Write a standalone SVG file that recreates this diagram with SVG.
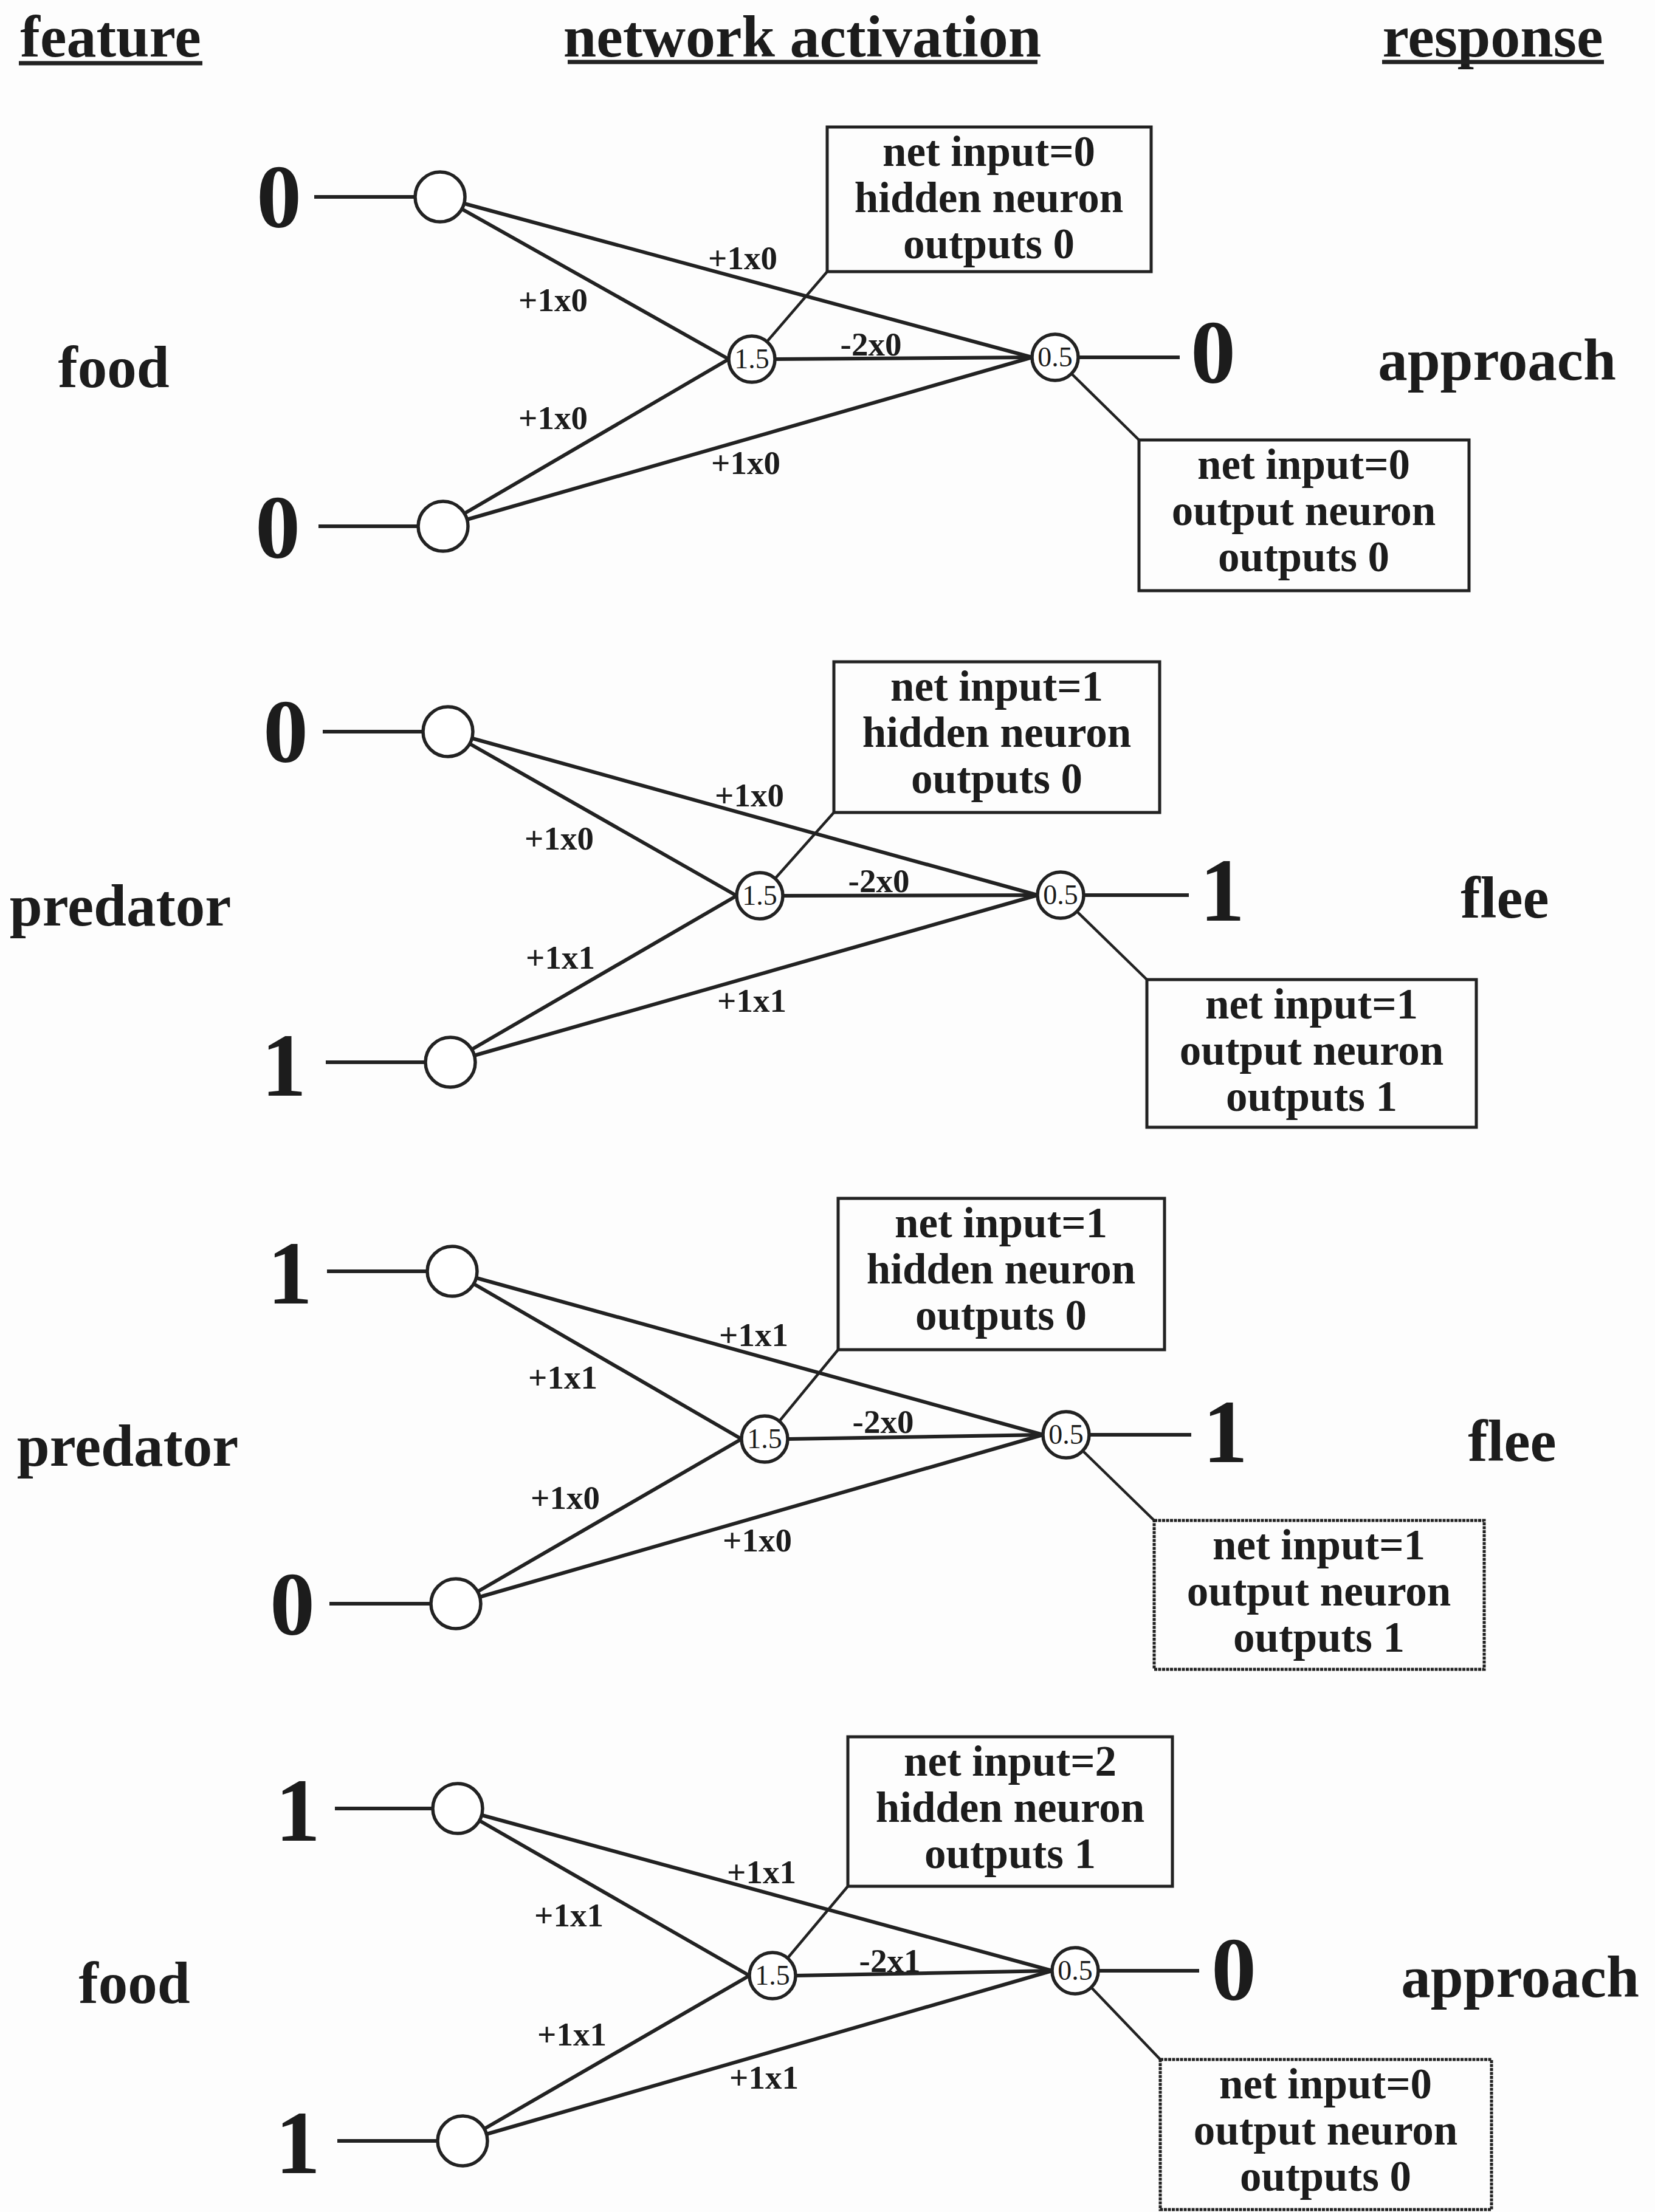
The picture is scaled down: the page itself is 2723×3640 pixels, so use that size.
<svg xmlns="http://www.w3.org/2000/svg" width="2723" height="3640" viewBox="0 0 2723 3640">
<style>
text{font-family:"Liberation Serif","Times New Roman",serif;fill:#1c1c1c;text-anchor:middle}
.hd{font-size:98px;font-weight:bold}
.side{font-size:97px;font-weight:bold}
.dig{font-size:148px;font-weight:bold}
.bx{font-size:71px;font-weight:bold}
.wl{font-size:55px;font-weight:bold}
.nl{font-size:46px}
.node{fill:#fff;stroke:#222;stroke-width:5.5}
.box{fill:none;stroke:#222;stroke-width:5}
.dot{stroke-dasharray:5 1.5}
.e{stroke:#222;stroke-width:6;fill:none}
.lead{stroke:#222;stroke-width:4.5;fill:none}
.ul{stroke:#222;stroke-width:7}
</style>
<rect width="2723" height="3640" fill="#fdfdfd"/>

<g id="headers">
<text class="hd" x="182" y="93">feature</text>
<line class="ul" x1="31" y1="104" x2="333" y2="104"/>
<text class="hd" x="1320" y="93">network activation</text>
<line class="ul" x1="934" y1="102" x2="1707" y2="102"/>
<text class="hd" x="2456" y="93">response</text>
<line class="ul" x1="2274" y1="102" x2="2639" y2="102"/>
</g>

<g id="connectors">
<!-- panel 1 -->
<line class="e" x1="517" y1="324" x2="683" y2="324"/>
<line class="e" x1="524" y1="866" x2="688" y2="866"/>
<line class="e" x1="760" y1="344" x2="1199" y2="591"/>
<line class="e" x1="764" y1="335" x2="1698" y2="588"/>
<line class="e" x1="764" y1="845" x2="1199" y2="591"/>
<line class="e" x1="768" y1="855" x2="1698" y2="588"/>
<line class="e" x1="1275" y1="591" x2="1698" y2="588"/>
<line class="e" x1="1774" y1="588" x2="1941" y2="588"/>
<line class="lead" x1="1262" y1="562" x2="1361" y2="447"/>
<line class="lead" x1="1763" y1="615" x2="1874" y2="724"/>
<!-- panel 2 -->
<line class="e" x1="531" y1="1204" x2="696" y2="1204"/>
<line class="e" x1="536" y1="1748" x2="700" y2="1748"/>
<line class="e" x1="773" y1="1224" x2="1212" y2="1474"/>
<line class="e" x1="777" y1="1215" x2="1707" y2="1473"/>
<line class="e" x1="776" y1="1727" x2="1212" y2="1474"/>
<line class="e" x1="780" y1="1737" x2="1707" y2="1473"/>
<line class="e" x1="1288" y1="1474" x2="1707" y2="1473"/>
<line class="e" x1="1783" y1="1473" x2="1956" y2="1473"/>
<line class="lead" x1="1275" y1="1446" x2="1372" y2="1337"/>
<line class="lead" x1="1772" y1="1500" x2="1887" y2="1612"/>
<!-- panel 3 -->
<line class="e" x1="538" y1="2092" x2="703" y2="2092"/>
<line class="e" x1="542" y1="2639" x2="709" y2="2639"/>
<line class="e" x1="780" y1="2113" x2="1220" y2="2368"/>
<line class="e" x1="784" y1="2103" x2="1716" y2="2361"/>
<line class="e" x1="786" y1="2619" x2="1220" y2="2368"/>
<line class="e" x1="789" y1="2628" x2="1716" y2="2361"/>
<line class="e" x1="1296" y1="2368" x2="1716" y2="2361"/>
<line class="e" x1="1792" y1="2361" x2="1960" y2="2361"/>
<line class="lead" x1="1282" y1="2339" x2="1379" y2="2221"/>
<line class="lead" x1="1781" y1="2387" x2="1899" y2="2502"/>
<!-- panel 4 -->
<line class="e" x1="551" y1="2976" x2="712" y2="2976"/>
<line class="e" x1="555" y1="3523" x2="720" y2="3523"/>
<line class="e" x1="789" y1="2996" x2="1233" y2="3251"/>
<line class="e" x1="793" y1="2987" x2="1731" y2="3243"/>
<line class="e" x1="797" y1="3503" x2="1233" y2="3251"/>
<line class="e" x1="800" y1="3512" x2="1731" y2="3243"/>
<line class="e" x1="1309" y1="3251" x2="1731" y2="3243"/>
<line class="e" x1="1807" y1="3243" x2="1973" y2="3243"/>
<line class="lead" x1="1296" y1="3222" x2="1395" y2="3104"/>
<line class="lead" x1="1795" y1="3270" x2="1909" y2="3389"/>
</g>

<g id="weight-labels">
<text class="wl" x="1222" y="443">+1x0</text>
<text class="wl" x="910" y="512">+1x0</text>
<text class="wl" x="910" y="706">+1x0</text>
<text class="wl" x="1227" y="780">+1x0</text>
<text class="wl" x="1433" y="585">-2x0</text>

<text class="wl" x="1233" y="1327">+1x0</text>
<text class="wl" x="920" y="1398">+1x0</text>
<text class="wl" x="922" y="1594">+1x1</text>
<text class="wl" x="1237" y="1665">+1x1</text>
<text class="wl" x="1446" y="1468">-2x0</text>

<text class="wl" x="1240" y="2215">+1x1</text>
<text class="wl" x="926" y="2285">+1x1</text>
<text class="wl" x="930" y="2483">+1x0</text>
<text class="wl" x="1246" y="2553">+1x0</text>
<text class="wl" x="1453" y="2358">-2x0</text>

<text class="wl" x="1253" y="3099">+1x1</text>
<text class="wl" x="936" y="3170">+1x1</text>
<text class="wl" x="941" y="3366">+1x1</text>
<text class="wl" x="1257" y="3437">+1x1</text>
<text class="wl" x="1464" y="3245">-2x1</text>
</g>

<!-- Panel 1 -->
<g id="p1-feature"><text class="side" x="187" y="637">food</text></g>
<g id="p1-in1-val"><text class="dig" x="459" y="374">0</text></g>
<g id="p1-in2-val"><text class="dig" x="457" y="918">0</text></g>
<g id="p1-in1"><circle class="node" cx="724" cy="324" r="41"/></g>
<g id="p1-in2"><circle class="node" cx="729" cy="866" r="41"/></g>
<g id="p1-hidden"><circle class="node" cx="1237" cy="591" r="38"/><text class="nl" x="1237" y="606">1.5</text></g>
<g id="p1-output"><circle class="node" cx="1736" cy="588" r="38"/><text class="nl" x="1736" y="603">0.5</text></g>
<g id="p1-out-val"><text class="dig" x="1996" y="630">0</text></g>
<g id="p1-response"><text class="side" x="2463" y="625">approach</text></g>
<g id="p1-hidden-box"><rect class="box" x="1361" y="209" width="533" height="238"/>
<text class="bx" x="1627" y="273">net input=0</text><text class="bx" x="1627" y="349">hidden neuron</text><text class="bx" x="1627" y="425">outputs 0</text></g>
<g id="p1-output-box"><rect class="box" x="1874" y="724" width="543" height="248"/>
<text class="bx" x="2145" y="788">net input=0</text><text class="bx" x="2145" y="864">output neuron</text><text class="bx" x="2145" y="940">outputs 0</text></g>

<!-- Panel 2 -->
<g id="p2-feature"><text class="side" x="198" y="1523">predator</text></g>
<g id="p2-in1-val"><text class="dig" x="470" y="1254">0</text></g>
<g id="p2-in2-val"><text class="dig" x="467" y="1803">1</text></g>
<g id="p2-in1"><circle class="node" cx="737" cy="1204" r="41"/></g>
<g id="p2-in2"><circle class="node" cx="741" cy="1748" r="41"/></g>
<g id="p2-hidden"><circle class="node" cx="1250" cy="1474" r="38"/><text class="nl" x="1250" y="1489">1.5</text></g>
<g id="p2-output"><circle class="node" cx="1745" cy="1473" r="38"/><text class="nl" x="1745" y="1488">0.5</text></g>
<g id="p2-out-val"><text class="dig" x="2011" y="1515">1</text></g>
<g id="p2-response"><text class="side" x="2476" y="1510">flee</text></g>
<g id="p2-hidden-box"><rect class="box" x="1372" y="1089" width="536" height="248"/>
<text class="bx" x="1640" y="1153">net input=1</text><text class="bx" x="1640" y="1229">hidden neuron</text><text class="bx" x="1640" y="1305">outputs 0</text></g>
<g id="p2-output-box"><rect class="box" x="1887" y="1612" width="542" height="243"/>
<text class="bx" x="2158" y="1676">net input=1</text><text class="bx" x="2158" y="1752">output neuron</text><text class="bx" x="2158" y="1828">outputs 1</text></g>

<!-- Panel 3 -->
<g id="p3-feature"><text class="side" x="210" y="2412">predator</text></g>
<g id="p3-in1-val"><text class="dig" x="477" y="2145">1</text></g>
<g id="p3-in2-val"><text class="dig" x="481" y="2690">0</text></g>
<g id="p3-in1"><circle class="node" cx="744" cy="2092" r="41"/></g>
<g id="p3-in2"><circle class="node" cx="750" cy="2639" r="41"/></g>
<g id="p3-hidden"><circle class="node" cx="1258" cy="2368" r="38"/><text class="nl" x="1258" y="2383">1.5</text></g>
<g id="p3-output"><circle class="node" cx="1754" cy="2361" r="38"/><text class="nl" x="1754" y="2376">0.5</text></g>
<g id="p3-out-val"><text class="dig" x="2016" y="2406">1</text></g>
<g id="p3-response"><text class="side" x="2488" y="2404">flee</text></g>
<g id="p3-hidden-box"><rect class="box" x="1379" y="1972" width="537" height="249"/>
<text class="bx" x="1647" y="2036">net input=1</text><text class="bx" x="1647" y="2112">hidden neuron</text><text class="bx" x="1647" y="2188">outputs 0</text></g>
<g id="p3-output-box"><rect class="box dot" x="1899" y="2502" width="543" height="245"/>
<text class="bx" x="2170" y="2566">net input=1</text><text class="bx" x="2170" y="2642">output neuron</text><text class="bx" x="2170" y="2718">outputs 1</text></g>

<!-- Panel 4 -->
<g id="p4-feature"><text class="side" x="221" y="3296">food</text></g>
<g id="p4-in1-val"><text class="dig" x="490" y="3029">1</text></g>
<g id="p4-in2-val"><text class="dig" x="490" y="3576">1</text></g>
<g id="p4-in1"><circle class="node" cx="753" cy="2976" r="41"/></g>
<g id="p4-in2"><circle class="node" cx="761" cy="3523" r="41"/></g>
<g id="p4-hidden"><circle class="node" cx="1271" cy="3251" r="38"/><text class="nl" x="1271" y="3266">1.5</text></g>
<g id="p4-output"><circle class="node" cx="1769" cy="3243" r="38"/><text class="nl" x="1769" y="3258">0.5</text></g>
<g id="p4-out-val"><text class="dig" x="2030" y="3291">0</text></g>
<g id="p4-response"><text class="side" x="2501" y="3286">approach</text></g>
<g id="p4-hidden-box"><rect class="box" x="1395" y="2858" width="534" height="246"/>
<text class="bx" x="1662" y="2922">net input=2</text><text class="bx" x="1662" y="2998">hidden neuron</text><text class="bx" x="1662" y="3074">outputs 1</text></g>
<g id="p4-output-box"><rect class="box dot" x="1909" y="3389" width="545" height="247"/>
<text class="bx" x="2181" y="3453">net input=0</text><text class="bx" x="2181" y="3529">output neuron</text><text class="bx" x="2181" y="3605">outputs 0</text></g>
</svg>
